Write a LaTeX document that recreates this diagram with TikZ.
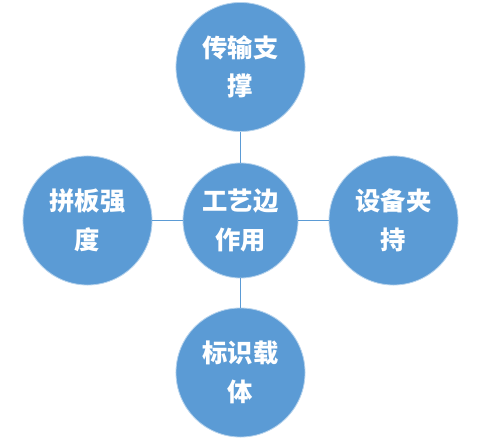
\documentclass[tikz,border=0pt]{standalone}
\usepackage{fontspec}
\newfontfamily\cjk{Noto Sans CJK SC}
\usepackage{tikz}
\usetikzlibrary{
  positioning % 节点相对定位
}
\definecolor{qiuBlue}{HTML}{5B9BD5}

\begin{document}
\begin{tikzpicture}[x=0.025cm, y=-0.025cm,
  ball/.style={circle, fill=qiuBlue, draw=white!55!qiuBlue, line width=0.6pt,
    minimum size=3.225cm, inner sep=0pt, align=center, text=white,
    font=\cjk\bfseries\fontsize{18}{27.5}\selectfont},
  link/.style={draw=qiuBlue, line width=0.8pt}] % 中心圆加四个外圆，用细线连接

  \useasboundingbox (0,0) rectangle (479,444); % 固定画幅 479x444

  % ======= 中心圆 =======
  \node[ball, minimum size=2.875cm] (center) at (240.5,220.5) {工艺边\\作用};

  % ======= 四个外圆 =======
  \node[ball] (top) at (240.5,67) {传输支\\撑};
  \node[ball] (left) at (87.5,220.5) {拼板强\\度};
  \node[ball] (right) at (393.5,220.5) {设备夹\\持};
  \node[ball] (bottom) at (240.5,372.5) {标识载\\体};

  % ======= 连线 =======
  \draw[link] (center) -- (top);
  \draw[link] (center) -- (left);
  \draw[link] (center) -- (right);
  \draw[link] (center) -- (bottom);

\end{tikzpicture}
\end{document}
